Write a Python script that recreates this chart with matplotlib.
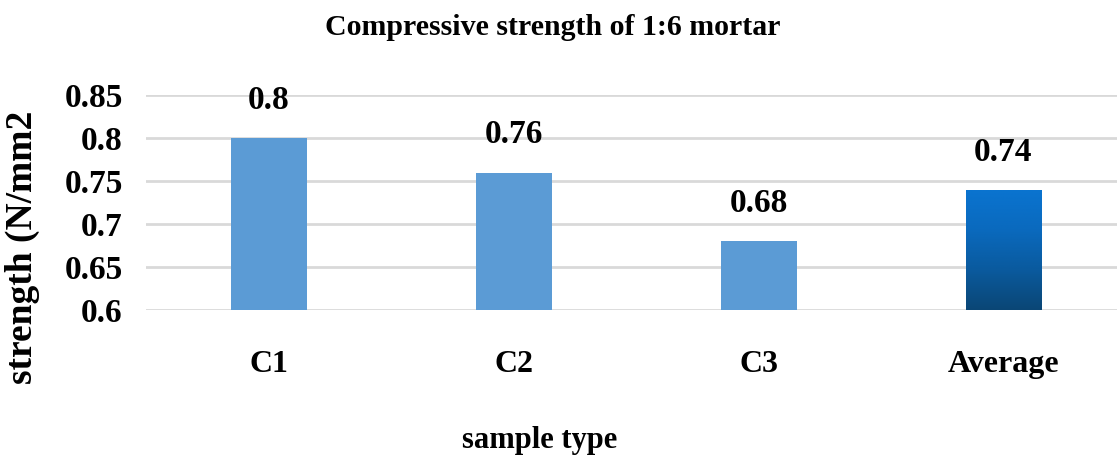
import numpy as np
import matplotlib
matplotlib.use("Agg")
import matplotlib.pyplot as plt
from matplotlib.colors import LinearSegmentedColormap

# compressive strength results, 1:6 mortar
samples = ["C1", "C2", "C3", "Average"]
strength = [0.80, 0.76, 0.68, 0.74]
y_ticks = [0.6, 0.65, 0.7, 0.75, 0.8, 0.85]
y_tick_labels = ["0.6", "0.65", "0.7", "0.75", "0.8", "0.85"]
value_labels = ["0.8", "0.76", "0.68", "0.74"]

plt.rcParams["font.family"] = ["Liberation Serif", "DejaVu Serif"]
plt.rcParams["font.weight"] = "bold"

fig = plt.figure(figsize=(11.17, 4.58), dpi=100)
ax = fig.add_axes([0.131, 0.323, 0.877, 0.469])

x = np.arange(len(samples))
bars = ax.bar(x, strength, width=0.31, color="#5B9BD5", zorder=2)

ax.set_xlim(-0.5, len(samples) - 0.5)
ax.set_ylim(0.6, 0.85)

# gradient fill for the average bar (dark at the base, bright at the top)
grad = LinearSegmentedColormap.from_list(
    "avg", ["#0B4675", "#0A5A9E", "#0A6ABE", "#0A74D0"])
avg = bars[-1]
x0 = avg.get_x()
x1 = x0 + avg.get_width()
img = ax.imshow(np.linspace(0, 1, 256).reshape(-1, 1), cmap=grad, origin="lower",
                extent=(x0, x1, ax.get_ylim()[0], strength[-1]),
                aspect="auto", zorder=3)
img.set_clip_path(avg)
avg.set_facecolor("none")
ax.set_xlim(-0.5, len(samples) - 0.5)
ax.set_ylim(0.6, 0.85)

for xi, v, lbl in zip(x, strength, value_labels):
    ax.annotate(lbl, (xi, v), xytext=(0, 21), textcoords="offset points",
                ha="center", va="baseline", fontsize=24, fontweight="bold")

ax.set_yticks(y_ticks)
ax.set_yticklabels(y_tick_labels, fontsize=24, fontweight="bold")
ax.set_xticks(x)
ax.set_xticklabels(samples, fontsize=23, fontweight="bold")
ax.tick_params(axis="y", length=0, pad=17)
ax.tick_params(axis="x", length=0, pad=29)

ax.grid(axis="y", color="#D9D9D9", linewidth=2, zorder=0)
ax.set_axisbelow(True)
for s in ax.spines.values():
    s.set_visible(False)

fig.text(553 / 1117, 0.924, "Compressive strength of 1:6 mortar",
         ha="center", va="baseline", fontsize=21.5, fontweight="bold")
fig.text(540 / 1117, 0.022, "sample type",
         ha="center", va="baseline", fontsize=22, fontweight="bold")
fig.text(0.02, 0.461, "strength (N/mm2", rotation=90,
         ha="center", va="center", fontsize=27, fontweight="bold")

fig.savefig("out.png", dpi=100)
